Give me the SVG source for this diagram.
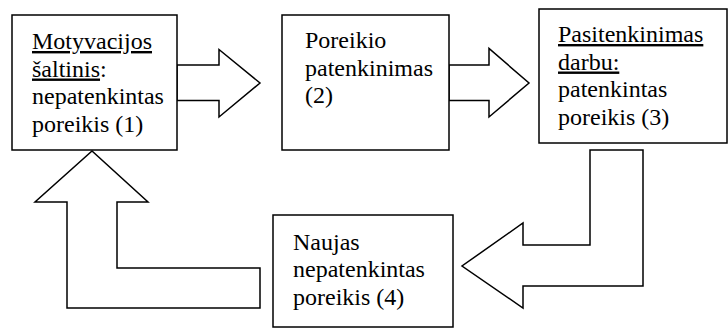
<svg xmlns="http://www.w3.org/2000/svg" width="728" height="328" viewBox="0 0 728 328">
<style>
.box{fill:#fff;stroke:#000;stroke-width:1.5}
.arr{fill:#fff;stroke:#000;stroke-width:1.5;stroke-linejoin:miter}
text{font-family:"Liberation Serif","Times New Roman",serif;font-size:24px;fill:#000}
.u{text-decoration:underline}
</style>
<rect width="728" height="328" fill="#fff"/>
<g id="connectors">
<path class="arr" d="M177,65 L219,65 L219,49.5 L260,83 L219,117 L219,100.5 L177,100.5 Z"/>
<path class="arr" d="M449,65 L489,65 L489,48.5 L529,83 L489,117 L489,100.5 L449,100.5 Z"/>
<path class="arr" d="M590,150 L643,150 L643,286 L523,286 L523,308 L462,266 L523,223 L523,245 L590,245 Z"/>
<path class="arr" d="M260,268 L260,308 L67,308 L67,202 L35,202 L92,151 L148,202 L117,202 L117,268 Z"/>
</g>
<g id="node1">
<rect class="box" x="12" y="15" width="165" height="135"/>
<text x="32" y="49"><tspan class="u">Motyvacijos</tspan></text>
<text x="32" y="76.5"><tspan class="u">šaltinis</tspan>:</text>
<text x="32" y="104">nepatenkintas</text>
<text x="32" y="131.5">poreikis (1)</text>
</g>
<g id="node2">
<rect class="box" x="282" y="15" width="167" height="135"/>
<text x="305" y="48">Poreikio</text>
<text x="305" y="75.5">patenkinimas</text>
<text x="305" y="103">(2)</text>
</g>
<g id="node3">
<rect class="box" x="539" y="9" width="188" height="134"/>
<text x="558" y="42"><tspan class="u">Pasitenkinimas</tspan></text>
<text x="558" y="69.5"><tspan class="u">darbu:</tspan></text>
<text x="558" y="97">patenkintas</text>
<text x="558" y="124.5">poreikis (3)</text>
</g>
<g id="node4">
<rect class="box" x="273" y="215" width="180" height="112"/>
<text x="293" y="249.5">Naujas</text>
<text x="293" y="277">nepatenkintas</text>
<text x="293" y="304.5">poreikis (4)</text>
</g>
</svg>
